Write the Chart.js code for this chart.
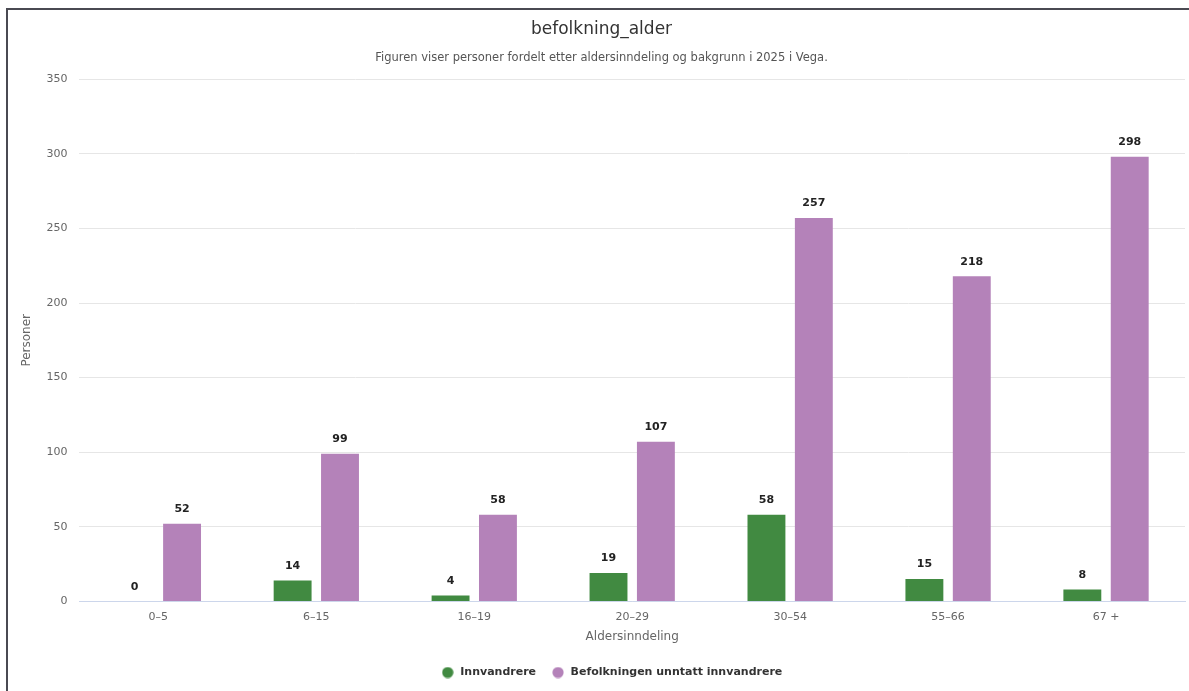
<!DOCTYPE html>
<html>
<head>
<meta charset="utf-8">
<script src="https://cdn.jsdelivr.net/npm/chart.js@4.4.0/dist/chart.umd.min.js"></script>
<style>
  html, body { margin: 0; padding: 0; background: #fff; }
  #frame {
    position: absolute; left: 6px; top: 8px; width: 1183px; height: 683px;
    border-left: 2px solid #4a4a52; border-top: 2px solid #4a4a52;
    box-sizing: border-box;
  }
  #wrap { position: absolute; left: 0; top: 0; width: 1181px; height: 681px; }
</style>
</head>
<body>
<div id="frame"><div id="wrap"><canvas id="chart"></canvas></div></div>
<script>
const categories = ['0–5', '6–15', '16–19', '20–29', '30–54', '55–66', '67 +'];
const innvandrere = [0, 14, 4, 19, 58, 15, 8];
const befolkning = [52, 99, 58, 107, 257, 218, 298];
const yTicks = [0, 50, 100, 150, 200, 250, 300, 350];

const FONT = '"DejaVu Sans", sans-serif';
const GREEN = '#418a41';
const PURPLE = '#b482b9';

// small round legend marker
function dot(color) {
    const c = document.createElement('canvas');
    c.width = 12;
    c.height = 12;
    const g = c.getContext('2d');
    g.fillStyle = color;
    g.beginPath();
    g.arc(6, 6, 5.6, 0, Math.PI * 2);
    g.fill();
    return c;
}

// draws the value above every bar
const valueLabels = {
    id: 'valueLabels',
    afterDatasetsDraw(chart) {
        const ctx = chart.ctx;
        ctx.save();
        ctx.font = 'bold 11px ' + FONT;
        ctx.fillStyle = '#222';
        ctx.textAlign = 'center';
        ctx.textBaseline = 'bottom';
        chart.data.datasets.forEach((ds, i) => {
            chart.getDatasetMeta(i).data.forEach((bar, j) => {
                ctx.fillText(ds.data[j], bar.x, bar.y - 9);
            });
        });
        ctx.restore();
    }
};

// nudge the legend row a little to the right
const legendShift = {
    id: 'legendShift',
    afterLayout(chart) {
        chart.legend.left += 20;
    }
};

new Chart(document.getElementById('chart'), {
    type: 'bar',
    data: {
        labels: categories,
        datasets: [
            {
                label: 'Innvandrere',
                data: innvandrere,
                backgroundColor: GREEN,
                pointStyle: dot(GREEN),
                categoryPercentage: 0.6,
                barPercentage: 0.8,
            },
            {
                label: 'Befolkningen unntatt innvandrere',
                data: befolkning,
                backgroundColor: PURPLE,
                pointStyle: dot(PURPLE),
                categoryPercentage: 0.6,
                barPercentage: 0.8,
            },
        ],
    },
    options: {
        responsive: true,
        maintainAspectRatio: false,
        animation: false,
        layout: { padding: { left: 10, right: 4, top: 6, bottom: 3 } },
        plugins: {
            title: {
                display: true,
                text: 'befolkning_alder',
                color: '#333',
                font: { family: FONT, size: 17, weight: 'normal' },
                padding: { top: 3, bottom: 12 },
            },
            subtitle: {
                display: true,
                text: 'Figuren viser personer fordelt etter aldersinndeling og bakgrunn i 2025 i Vega.',
                color: '#555',
                font: { family: FONT, size: 11.5 },
                padding: { bottom: 14 },
            },
            legend: {
                position: 'bottom',
                labels: {
                    usePointStyle: true,
                    pointStyleWidth: 14,
                    boxHeight: 11,
                    color: '#333',
                    font: { family: FONT, size: 11, weight: 'bold' },
                    padding: 15,
                },
            },
            tooltip: { enabled: false },
        },
        scales: {
            x: {
                grid: { display: false },
                border: { color: '#ccd6eb' },
                ticks: { color: '#666', font: { family: FONT, size: 11 }, padding: 1 },
                title: {
                    display: true,
                    text: 'Aldersinndeling',
                    color: '#666',
                    font: { family: FONT, size: 12 },
                    padding: { top: 5, bottom: 8 },
                },
            },
            y: {
                min: 0,
                max: 350,
                afterBuildTicks: (axis) => { axis.ticks = yTicks.map(v => ({ value: v })); },
                grid: { color: '#e6e6e6', drawTicks: false },
                border: { display: false },
                ticks: { color: '#666', font: { family: FONT, size: 11 }, padding: 12 },
                title: {
                    display: true,
                    text: 'Personer',
                    color: '#666',
                    font: { family: FONT, size: 12 },
                    padding: { top: 2, bottom: 0 },
                },
            },
        },
    },
    plugins: [valueLabels, legendShift],
});
</script>
</body>
</html>
